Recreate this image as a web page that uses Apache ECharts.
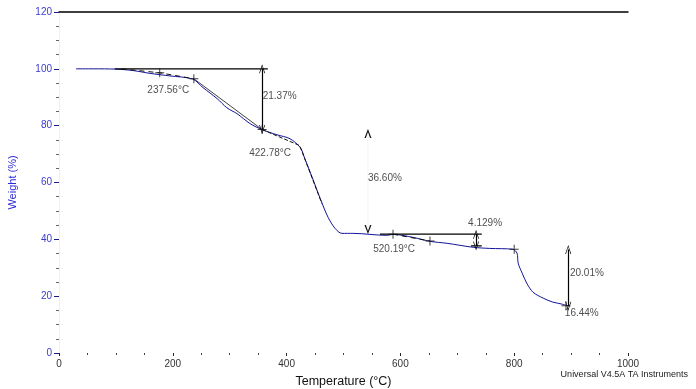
<!DOCTYPE html>
<html><head><meta charset="utf-8">
<script src="https://cdn.jsdelivr.net/npm/echarts@6/dist/echarts.min.js"></script>
<style>html,body{margin:0;padding:0;background:#fff}#c{width:696px;height:389px}</style>
</head><body><div id="c"></div>
<script>
// TGA curve (temperature °C, weight %)
const temps   = [30, 60, 100, 130, 160, 195, 235, 253, 278, 295, 313, 336, 357, 383, 406, 424, 432, 445, 459, 473, 485, 497, 517, 576, 587, 622, 652, 682, 728, 757, 798, 805, 807, 814, 822, 833, 851, 868, 884, 895];
const weights = [100, 100, 99.9, 99.4, 98.4, 97.5, 96.4, 93.4, 89.5, 86.3, 84.2, 80.7, 78.6, 76.8, 75.4, 72.3, 68.4, 61.8, 54.4, 47.7, 43.9, 42.1, 42.1, 41.4, 41.75, 40.7, 39.3, 38.6, 37.2, 36.8, 36.5, 35.1, 31.6, 28.1, 24.6, 21.4, 19.3, 17.9, 17.2, 16.5];

// axis ticks
const xTicks = [0, 200, 400, 600, 800, 1000];
const yTicks = [0, 20, 40, 60, 80, 100, 120];

// analysis construction lines (T, W)
const baseLine100   = [[98, 100], [367, 100]];
const extrapOnset1  = [[110, 100], [177, 98.6], [237, 96.5]];
const tangent1      = [[237, 96.5], [357, 78.63]];
const tangent2      = [[357, 78.63], [423, 73.0], [462, 52.6]];
const baseLine42    = [[564, 41.8], [743, 41.8]];
const extrapOnset2  = [[587, 41.8], [652, 39.4]];
const base37        = [[724, 37.67], [743, 37.67]];
const crossMarks    = [[177, 98.6], [237, 96.5], [357, 78.63], [587, 41.8], [652, 39.4], [800, 36.5], [891, 16.6]];

// step arrows: [T, Wtop, Wbottom]
const stepArrows  = [[357, 100, 78.63], [733, 41.8, 37.67], [895, 36.45, 16.44]];
const hiddenArrow = [543, 78.63, 42.03];

// annotation texts
const annoText  = ['237.56°C', '21.37%', '422.78°C', '36.60%', '4.129%', '520.19°C', '20.01%', '16.44%'];
const annoT     = [192, 358, 371, 543, 719, 589, 898, 889];
const annoW     = [92.6, 90.5, 70.2, 61.4, 45.6, 36.5, 28.1, 14.0];
const annoAlign = ['center', 'left', 'center', 'left', 'left', 'center', 'left', 'left'];

const chevron = 'path://M5,0 L10,12 L8.8,12 L5,2.6 L1.2,12 L0,12 Z';
const chevronBold = 'path://M5,0 L10,12 L8,12 L5,4 L2,12 L0,12 Z';
const FONT = 'Liberation Sans, Arial, sans-serif';

const chart = echarts.init(document.getElementById('c'), null, {renderer: 'canvas'});

const option = {
  animation: false,
  backgroundColor: '#fff',
  grid: {left: 59, right: 68, top: 12, bottom: 36, outerBoundsMode: 'none', containLabel: false},
  xAxis: [{
    type: 'value', min: 0, max: 1000, interval: 200,
    axisLine: {show: false},
    axisTick: {show: true, length: 3, lineStyle: {color: '#222'}},
    minorTick: {show: true, splitNumber: 4, length: 2, lineStyle: {color: '#444'}},
    splitLine: {show: false},
    axisLabel: {color: '#333', fontSize: 10, fontFamily: FONT, margin: 6,
      formatter: v => xTicks.includes(v) ? String(v) : ''},
    name: 'Temperature (°C)', nameLocation: 'middle', nameGap: 22, nameMoveOverlap: false,
    nameTextStyle: {color: '#111', fontSize: 12.5, fontFamily: FONT}
  }, {
    type: 'value', min: 0, max: 1000, position: 'top',
    axisLine: {show: true, onZero: false, lineStyle: {color: '#000', width: 1.5}},
    axisTick: {show: false}, axisLabel: {show: false}, splitLine: {show: false}
  }],
  yAxis: [{
    type: 'value', min: 0, max: 120, interval: 20,
    axisLine: {show: true, lineStyle: {color: '#e2e4ff'}},
    axisTick: {show: true, length: 5, lineStyle: {color: '#1a1a80'}},
    minorTick: {show: true, splitNumber: 4, length: 3, lineStyle: {color: '#666'}},
    splitLine: {show: false},
    axisLabel: {color: '#3a3ad0', fontSize: 10, fontFamily: FONT, margin: 7,
      formatter: v => yTicks.includes(v) ? String(v) : ''},
    name: 'Weight (%)', nameLocation: 'middle', nameGap: 41, nameMoveOverlap: false,
    nameTextStyle: {color: '#2a2ad8', fontSize: 11, fontFamily: FONT}
  }, {
    type: 'value', min: 0, max: 120, position: 'right',
    axisLine: {show: true, lineStyle: {color: '#eceeff'}},
    axisTick: {show: false}, axisLabel: {show: false}, splitLine: {show: false}
  }],
  graphic: [{
    type: 'text', right: 8, top: 370,
    style: {text: 'Universal V4.5A TA Instruments', fill: '#222', font: '9px ' + FONT}
  }],
  series: [
    {type: 'line', data: temps.map((t, i) => [t, weights[i]]), showSymbol: false, smooth: 0.3,
      lineStyle: {color: '#14149a', width: 1}, z: 3},
    {type: 'line', data: baseLine100, showSymbol: false, lineStyle: {color: '#000', width: 1.2}, z: 4},
    {type: 'line', data: extrapOnset1, showSymbol: false, lineStyle: {color: '#111', width: 1, type: [5, 4]}, z: 4},
    {type: 'line', data: tangent1, showSymbol: false, lineStyle: {color: '#111', width: 0.8}, z: 2},
    {type: 'line', data: tangent2, showSymbol: false, lineStyle: {color: '#111', width: 1, type: [4, 2]}, z: 4},
    {type: 'line', data: baseLine42, showSymbol: false, lineStyle: {color: '#000', width: 1.2}, z: 4},
    {type: 'line', data: extrapOnset2, showSymbol: false, lineStyle: {color: '#111', width: 1, type: [5, 4]}, z: 4},
    {type: 'line', data: base37, showSymbol: false, lineStyle: {color: '#000', width: 1.2}, z: 4},
    {type: 'scatter', data: crossMarks, symbol: 'path://M4,0 L5,0 L5,4 L9,4 L9,5 L5,5 L5,9 L4,9 L4,5 L0,5 L0,4 L4,4 Z',
      symbolSize: 9, itemStyle: {color: '#111'}, z: 5},
    {type: 'line', data: [], markLine: {
      silent: true, animation: false, label: {show: false},
      symbol: [chevron, chevron], symbolSize: [6, 9],
      lineStyle: {color: '#000', width: 1.2, type: 'solid'},
      data: stepArrows.map(a => [{coord: [a[0], a[1]]}, {coord: [a[0], a[2]]}])
    }},
    {type: 'line', data: [[hiddenArrow[0], hiddenArrow[1]], [hiddenArrow[0], hiddenArrow[2]]],
      showSymbol: false, lineStyle: {color: '#f3f3f3', width: 1}, z: 1},
    {type: 'scatter', z: 5, symbol: chevronBold, symbolSize: [7, 9], itemStyle: {color: '#111', opacity: 1},
      data: [
        {value: [hiddenArrow[0], hiddenArrow[1]], symbolRotate: 0, symbolOffset: [0, 4]},
        {value: [hiddenArrow[0], hiddenArrow[2]], symbolRotate: 180, symbolOffset: [0, -4]}
      ]},
    {type: 'scatter', symbolSize: 0, z: 6,
      data: annoText.map((s, i) => ({name: s, value: [annoT[i], annoW[i]],
        label: {show: true, position: 'inside', formatter: s, align: annoAlign[i], verticalAlign: 'middle',
          color: '#222', fontSize: 10, fontFamily: FONT}}))}
  ]
};
chart.setOption(option);
</script>
</body></html>
